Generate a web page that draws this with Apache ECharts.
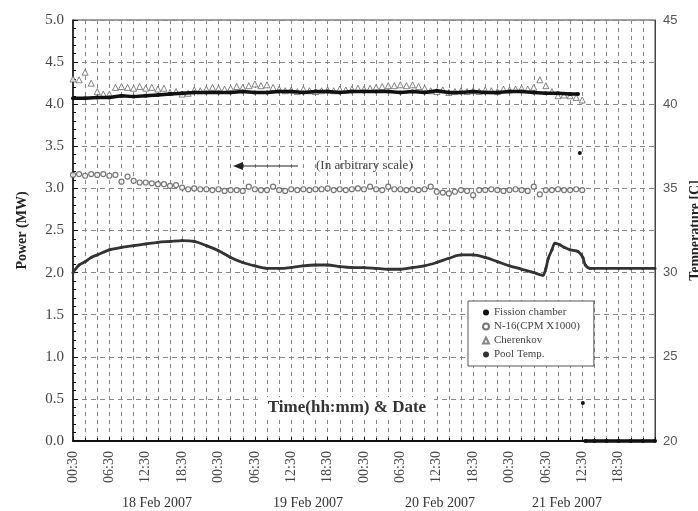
<!DOCTYPE html>
<html>
<head>
<meta charset="utf-8">
<script src="https://cdn.jsdelivr.net/npm/echarts@6/dist/echarts.min.js"></script>
<style>
html, body { margin: 0; padding: 0; background: #fff; }
#chart { width: 698px; height: 511px; }
</style>
</head>
<body>
<div id="chart"></div>
<script>
// hours counted from 00:30, 18 Feb 2007
const fissionHours = [0, 2, 4, 6, 8, 10, 12, 14, 16, 18, 20, 22, 24, 26, 28, 30, 32, 34, 36, 38,
  40, 42, 44, 46, 48, 50, 52, 54, 56, 58, 60, 62, 64, 66, 68, 70, 72, 74, 76, 78, 80, 82, 83.3,
  83.45, 83.6, 83.85, 84.1, 84.3, 84.5, 86, 88, 90, 92, 94, 96];
const fissionPower = [4.07, 4.07, 4.08, 4.08, 4.10, 4.09, 4.10, 4.11, 4.12, 4.13,
  4.14, 4.14, 4.14, 4.14, 4.15, 4.14, 4.14, 4.15, 4.15, 4.14,
  4.15, 4.15, 4.14, 4.15, 4.15, 4.15, 4.15, 4.14, 4.15, 4.14,
  4.16, 4.14, 4.14, 4.15, 4.14, 4.14, 4.15, 4.15, 4.14, 4.13,
  4.13, 4.12, 4.12,
  null, 3.42, null, 0.45, null,
  0, 0, 0, 0, 0, 0, 0];

// N-16 (CPM x1000) and Cherenkov, one reading per hour from hour 0
const n16Power = [3.16, 3.17, 3.15, 3.17, 3.16, 3.17, 3.15, 3.16, 3.08, 3.14,
  3.09, 3.07, 3.07, 3.06, 3.05, 3.05, 3.03, 3.04, 3.01, 2.99,
  3.00, 2.99, 2.99, 2.98, 2.99, 2.97, 2.98, 2.98, 2.97, 3.02,
  2.99, 2.98, 2.98, 3.02, 2.98, 2.97, 2.99, 2.98, 2.99, 2.98,
  2.99, 2.99, 3.00, 2.98, 2.99, 2.98, 2.99, 3.00, 2.99, 3.02,
  2.99, 2.98, 3.02, 2.99, 2.99, 2.98, 2.99, 2.98, 2.99, 3.02,
  2.96, 2.95, 2.94, 2.96, 2.98, 2.97, 2.92, 2.98, 2.98, 2.99,
  2.98, 2.97, 2.98, 2.99, 2.98, 2.97, 3.02, 2.93, 2.98, 2.98,
  2.99, 2.98, 2.98, 2.99, 2.98];
const cherenkovPower = [4.30, 4.29, 4.38, 4.25, 4.15, 4.12, 4.12, 4.20, 4.21, 4.20,
  4.19, 4.21, 4.19, 4.20, 4.18, 4.19, 4.14, 4.15, 4.12, 4.13,
  4.17, 4.16, 4.18, 4.20, 4.19, 4.18, 4.19, 4.21, 4.20, 4.22,
  4.24, 4.22, 4.23, 4.20, 4.18, 4.16, 4.17, 4.15, 4.18, 4.16,
  4.15, 4.16, 4.17, 4.16, 4.18, 4.17, 4.18, 4.19, 4.18, 4.19,
  4.20, 4.21, 4.22, 4.22, 4.23, 4.22, 4.23, 4.21, 4.19, 4.16,
  4.15, 4.17, 4.14, 4.15, 4.16, 4.15, 4.16, 4.15, 4.17, 4.16,
  4.15, 4.18, 4.17, 4.18, 4.19, 4.18, 4.20, 4.29, 4.22, 4.15,
  4.10, 4.11, 4.10, 4.08, 4.05];

const poolHours = [0, 1, 2, 3, 4, 6, 8, 10, 12, 14, 16, 18, 20, 22, 24, 26, 28, 30, 32, 34,
  36, 38, 40, 42, 44, 46, 48, 50, 52, 54, 56, 58, 60, 62, 64, 66, 68, 70, 72, 74, 76,
  77.5, 78, 78.4, 79, 79.5, 80.3, 81, 82, 83.3, 84.1, 84.5, 85.3, 86, 88, 90, 92, 94, 96];
const poolTemp = [30.0, 30.45, 30.65, 30.9, 31.05,
  31.35, 31.5, 31.6, 31.7, 31.8, 31.85, 31.9, 31.85, 31.6, 31.3,
  30.9, 30.6, 30.4, 30.25, 30.25, 30.3, 30.4, 30.45, 30.45, 30.35,
  30.3, 30.3, 30.25, 30.2, 30.2, 30.3, 30.4, 30.6, 30.85, 31.05,
  31.05, 30.9, 30.65, 30.4, 30.2, 30.0,
  29.85, 30.25, 30.85, 31.35, 31.75, 31.65, 31.5, 31.35, 31.25, 30.9, 30.45, 30.25,
  30.25, 30.25, 30.25, 30.25, 30.25, 30.25];

const dateLabels = ['18 Feb 2007', '19 Feb 2007', '20 Feb 2007', '21 Feb 2007'];
const dateLabelX = [157, 308, 440, 567];

const serif = 'Liberation Serif';

function pairs(xs, ys) {
  return xs.map((x, i) => [x, ys[i]]);
}
function hourly(ys) {
  return ys.map((y, i) => [i, y]);
}
function timeLabel(h) {
  if (h >= 96) return '';
  const t = (h + 0.5) % 24;
  const hh = Math.floor(t);
  const mm = Math.round((t - hh) * 60);
  return String(hh).padStart(2, '0') + ':' + String(mm).padStart(2, '0');
}

const chart = echarts.init(document.getElementById('chart'));
const dash = { color: '#8a8a8a', width: 1, type: [4, 4] };

const graphics = dateLabels.map((d, i) => ({
  type: 'text',
  style: { x: dateLabelX[i], y: 503, text: d, textAlign: 'center', textVerticalAlign: 'middle',
    font: '14px "Liberation Serif"', fill: '#333' }
}));
graphics.push(
  { type: 'rect', shape: { x: 262, y: 397, width: 172, height: 21 }, style: { fill: '#fff' }, z: 50 },
  { type: 'text', z: 51,
    style: { x: 347, y: 408, text: 'Time(hh:mm) & Date', textAlign: 'center', textVerticalAlign: 'middle',
      font: 'bold 17px "Liberation Serif"', fill: '#333' } },
  { type: 'line', z: 51, shape: { x1: 240, y1: 166, x2: 298, y2: 166 }, style: { stroke: '#222', lineWidth: 1.2 } },
  { type: 'polygon', z: 51, shape: { points: [[233, 166], [243, 162], [243, 170]] }, style: { fill: '#222' } },
  { type: 'text', z: 51,
    style: { x: 316, y: 166, text: '(In arbitrary scale)', textAlign: 'left', textVerticalAlign: 'middle',
      font: '13px "Liberation Serif"', fill: '#444' } }
);

const option = {
  animation: false,
  backgroundColor: '#fff',
  grid: { left: 73, right: 43, top: 20, bottom: 70, show: true, borderColor: '#444', borderWidth: 1,
    outerBoundsMode: 'none', containLabel: false },
  legend: {
    orient: 'vertical',
    left: 468,
    top: 301,
    padding: [6, 14, 6, 14],
    itemGap: 3,
    itemWidth: 6,
    itemHeight: 6,
    borderColor: '#555',
    borderWidth: 1,
    backgroundColor: '#fff',
    textStyle: { fontFamily: serif, fontSize: 11, color: '#444' },
    data: [
      { name: 'Fission chamber', icon: 'circle' },
      { name: 'N-16(CPM X1000)' },
      { name: 'Cherenkov' },
      { name: 'Pool Temp.', icon: 'circle' }
    ]
  },
  xAxis: {
    type: 'value',
    min: 0,
    max: 96,
    interval: 6,
    axisLine: { lineStyle: { color: '#111', width: 2 } },
    axisTick: { show: true, inside: true, length: 4, lineStyle: { color: '#111' } },
    minorTick: { show: true, splitNumber: 3, length: 3, lineStyle: { color: '#111' } },
    axisLabel: { rotate: 90, margin: 10, fontFamily: serif, fontSize: 14, color: '#444', formatter: timeLabel },
    splitLine: { show: true, lineStyle: dash },
    minorSplitLine: { show: true, lineStyle: dash }
  },
  yAxis: [
    {
      type: 'value',
      min: 0,
      max: 5,
      interval: 0.5,
      name: 'Power (MW)',
      nameLocation: 'middle',
      nameGap: 44,
      nameTextStyle: { fontFamily: serif, fontWeight: 'bold', fontSize: 14, color: '#222' },
      axisLine: { show: true, lineStyle: { color: '#111', width: 1.5 } },
      axisTick: { show: true, inside: true, length: 5, lineStyle: { color: '#111' } },
      minorTick: { show: true, splitNumber: 5, length: 3, lineStyle: { color: '#111' } },
      axisLabel: { margin: 9, fontFamily: serif, fontSize: 15, color: '#444', formatter: v => v.toFixed(1) },
      splitLine: { show: true, lineStyle: { color: '#8a8a8a', width: 1, type: [5, 4] } }
    },
    {
      type: 'value',
      min: 20,
      max: 45,
      interval: 5,
      position: 'right',
      name: 'Temperature [C]',
      nameLocation: 'middle',
      nameRotate: 90,
      nameGap: 30,
      nameTextStyle: { fontFamily: serif, fontWeight: 'bold', fontSize: 14, color: '#222' },
      axisLine: { show: true, lineStyle: { color: '#444', width: 1 } },
      axisTick: { show: false },
      axisLabel: { margin: 8, fontFamily: 'Liberation Sans', fontSize: 13, color: '#555' },
      splitLine: { show: false }
    }
  ],
  series: [
    {
      name: 'Pool Temp.',
      type: 'line',
      yAxisIndex: 1,
      data: pairs(poolHours, poolTemp),
      smooth: 0.3,
      symbol: 'circle',
      symbolSize: 3,
      lineStyle: { color: '#333', width: 2.8 },
      itemStyle: { color: '#333' },
      z: 3
    },
    {
      name: 'N-16(CPM X1000)',
      type: 'scatter',
      data: hourly(n16Power),
      symbol: 'circle',
      symbolSize: 5,
      itemStyle: { color: '#fff', borderColor: '#555', borderWidth: 1.2 },
      z: 4
    },
    {
      name: 'Cherenkov',
      type: 'scatter',
      data: hourly(cherenkovPower),
      symbol: 'triangle',
      symbolSize: 6,
      itemStyle: { color: '#fff', borderColor: '#666', borderWidth: 1 },
      z: 4
    },
    {
      name: 'Fission chamber',
      type: 'line',
      data: pairs(fissionHours, fissionPower),
      connectNulls: false,
      clip: false,
      symbol: 'circle',
      symbolSize: 4,
      lineStyle: { color: '#111', width: 3.5 },
      itemStyle: { color: '#111' },
      z: 5
    }
  ],
  graphic: graphics
};
chart.setOption(option);
</script>
</body>
</html>
